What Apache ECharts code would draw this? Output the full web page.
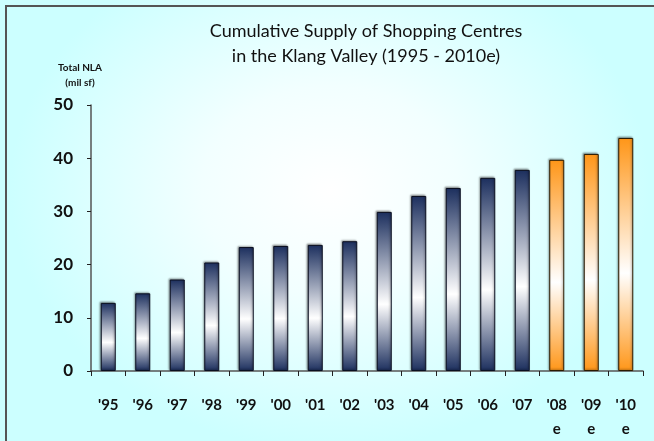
<!DOCTYPE html>
<html>
<head>
<meta charset="utf-8">
<script src="https://cdn.jsdelivr.net/npm/echarts@6/dist/echarts.min.js"></script>
<style>
html,body{margin:0;padding:0;}
#wrap{position:relative;width:654px;height:441px;overflow:hidden;
 background: radial-gradient(ellipse 320px 260px at 330px 190px, #ffffff 0%, #f2ffff 40%, #ccffff 100%);}
#frame{position:absolute;left:5px;top:5px;width:700px;height:500px;border-left:2px solid #555;border-top:2px solid #555;}
#chart{position:absolute;left:0;top:0;width:654px;height:441px;}
</style>
</head>
<body>
<div id="wrap"><div id="frame"></div><div id="chart"></div></div>
<script>
var categories = ["'95","'96","'97","'98","'99","'00","'01","'02","'03","'04","'05","'06","'07","'08\ne","'09\ne","'10\ne"];
var actualValues = [12.8,14.6,17.2,20.4,23.3,23.5,23.7,24.4,29.9,32.9,34.4,36.3,37.8,null,null,null];
var estimateValues = [null,null,null,null,null,null,null,null,null,null,null,null,null,39.7,40.8,43.8];
var yTicks = [0,10,20,30,40,50];
var titleLines = ["Cumulative Supply of Shopping Centres","in the Klang Valley (1995 - 2010e)"];
var yAxisName = "Total NLA\n(mil sf)";

function grad(dark){
  return new echarts.graphic.LinearGradient(0,0,0,1,[
    {offset:0,color:dark},{offset:0.58,color:'#ffffff'},{offset:1,color:dark}]);
}
var chart = echarts.init(document.getElementById('chart'), null, {renderer:'canvas'});
var font = 'Lato, "Open Sans", sans-serif';
chart.setOption({
  backgroundColor:'transparent',
  animation:false,
  title:{text:titleLines.join('\n'),left:361,top:14,textAlign:'center',
    textStyle:{fontFamily:font,fontSize:18,fontWeight:'normal',color:'#111',lineHeight:25}},
  grid:{left:91,right:11,top:105,bottom:66},
  xAxis:{type:'category',data:categories,
    axisLine:{lineStyle:{color:'#555',width:1.5}},
    axisTick:{show:true,length:5,lineStyle:{color:'#222'}},
    axisLabel:{fontFamily:font,fontSize:15,fontWeight:'bold',color:'#111',margin:22,lineHeight:24,verticalAlign:'top'}},
  yAxis:{type:'value',min:0,max:50,interval:10,
    name:yAxisName,nameLocation:'end',nameGap:15,
    nameTextStyle:{fontFamily:font,fontSize:10,fontWeight:'bold',color:'#111',align:'center',lineHeight:15,padding:[0,0,0,-22]},
    splitLine:{show:false},
    axisLine:{show:true,lineStyle:{color:'#555',width:1.5}},
    axisTick:{show:true,length:4,lineStyle:{color:'#222'}},
    axisLabel:{fontFamily:font,fontSize:17,fontWeight:'bold',color:'#111',margin:18,
      formatter:function(v){return yTicks.indexOf(v)>=0?String(v):'';}}},
  series:[
    {type:'bar',data:actualValues,barWidth:15,barGap:'-100%',
     itemStyle:{color:grad('#1c2f5e'),borderColor:'#0a0f20',borderWidth:1,
       shadowColor:'rgba(0,0,0,0.35)',shadowBlur:2,shadowOffsetX:-1,shadowOffsetY:-1}},
    {type:'bar',data:estimateValues,barWidth:15,
     itemStyle:{color:grad('#ff9618'),borderColor:'#2a1a00',borderWidth:1,
       shadowColor:'rgba(0,0,0,0.35)',shadowBlur:2,shadowOffsetX:-1,shadowOffsetY:-1}}
  ]
});
</script>
</body>
</html>
